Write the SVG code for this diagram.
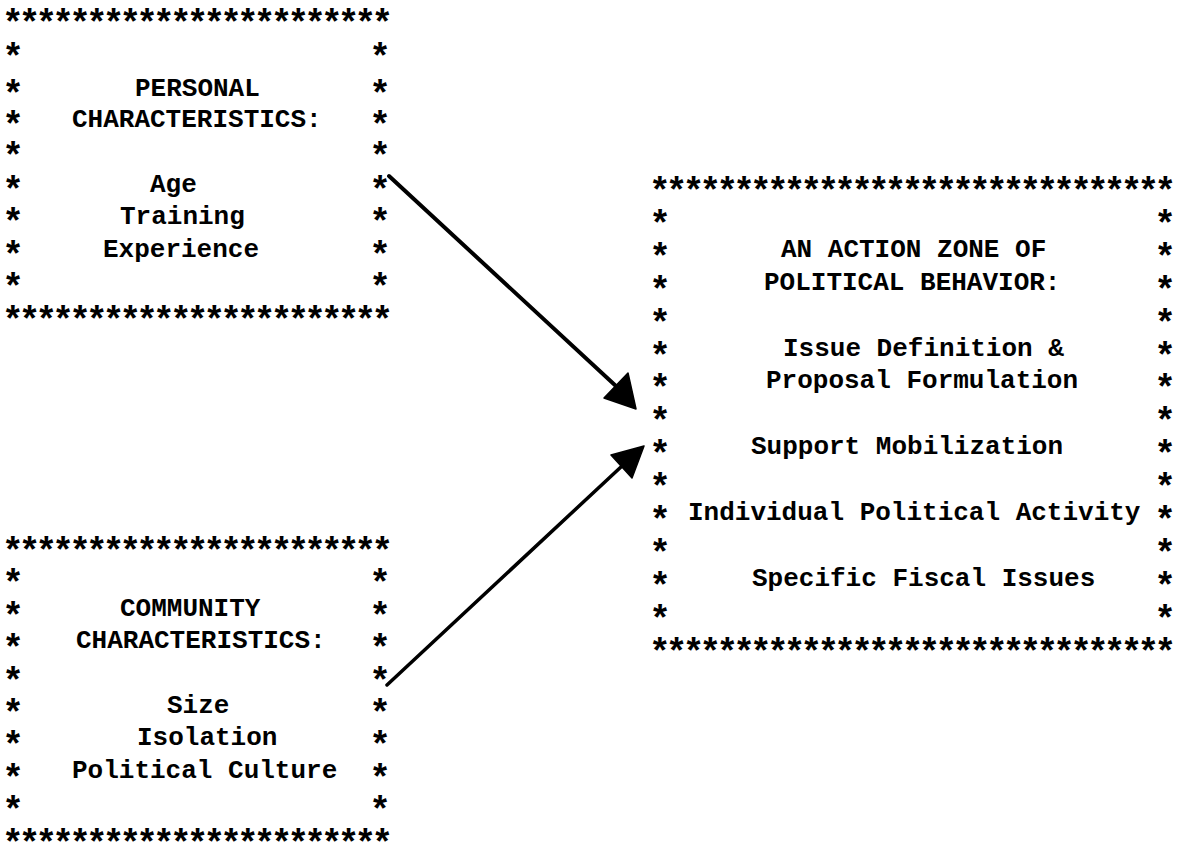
<svg xmlns="http://www.w3.org/2000/svg" width="1178" height="847" viewBox="0 0 1178 847">
<style>
.t{font-family:"Liberation Mono","Courier New",monospace;font-size:26px;font-weight:bold;fill:#000}
.s{font-family:"Liberation Mono","Courier New",monospace;font-size:36px;font-weight:bold;fill:#000;text-anchor:middle}
.b{font-family:"Liberation Mono","Courier New",monospace;font-size:36px;font-weight:bold;fill:#000}
.ln{stroke:#000;stroke-width:4;stroke-linecap:round;fill:none}
.hd{fill:#000;stroke:#000;stroke-width:1.5;stroke-linejoin:round}
</style>
<rect width="1178" height="847" fill="#fff"/>

<g id="personal">
<text class="b" x="2" y="35" textLength="391" lengthAdjust="spacing">***********************</text>
<text class="b" x="2" y="332" textLength="391" lengthAdjust="spacing">***********************</text>
<text class="s" x="13 13 13 13 13 13 13 13" y="69 106 137 168 202 234 267 299">********</text>
<text class="s" x="380 380 380 380 380 380 380 380" y="69 106 137 168 202 234 267 299">********</text>
<text class="t" x="135" y="96">PERSONAL</text>
<text class="t" x="72" y="127">CHARACTERISTICS:</text>
<text class="t" x="150" y="192">Age</text>
<text class="t" x="120" y="224">Training</text>
<text class="t" x="103" y="257">Experience</text>
</g>

<g id="community">
<text class="b" x="2" y="563" textLength="391" lengthAdjust="spacing">***********************</text>
<text class="b" x="2" y="855" textLength="391" lengthAdjust="spacing">***********************</text>
<text class="s" x="13 13 13 13 13 13 13 13" y="595 628 660 693 725 757 790 822">********</text>
<text class="s" x="380 380 380 380 380 380 380 380" y="595 628 660 693 725 757 790 822">********</text>
<text class="t" x="120" y="616">COMMUNITY</text>
<text class="t" x="76" y="648">CHARACTERISTICS:</text>
<text class="t" x="167" y="713">Size</text>
<text class="t" x="137" y="745">Isolation</text>
<text class="t" x="72" y="778">Political Culture</text>
</g>

<g id="action-zone">
<text class="b" x="649" y="203" textLength="527" lengthAdjust="spacing">*******************************</text>
<text class="b" x="649" y="664" textLength="527" lengthAdjust="spacing">*******************************</text>
<text class="s" x="660 660 660 660 660 660 660 660 660 660 660 660 660" y="236 269 302 335 368 400 433 466 499 532 565 598 631">*************</text>
<text class="s" x="1165 1165 1165 1165 1165 1165 1165 1165 1165 1165 1165 1165 1165" y="236 269 302 335 368 400 433 466 499 532 565 598 631">*************</text>
<text class="t" x="781" y="257">AN ACTION ZONE OF</text>
<text class="t" x="764" y="290">POLITICAL BEHAVIOR:</text>
<text class="t" x="783" y="356">Issue Definition &amp;</text>
<text class="t" x="766" y="388">Proposal Formulation</text>
<text class="t" x="751" y="454">Support Mobilization</text>
<text class="t" x="688" y="520">Individual Political Activity</text>
<text class="t" x="752" y="586">Specific Fiscal Issues</text>
</g>

<g id="connectors">
<path class="ln" d="M389,176 L617,387"/>
<polygon class="hd" points="636,409 604,398 628,373"/>
<path class="ln" d="M387,685 L622,466" style="stroke-width:3.5"/>
<polygon class="hd" points="644,446 611,455 632,478"/>
</g>
</svg>
